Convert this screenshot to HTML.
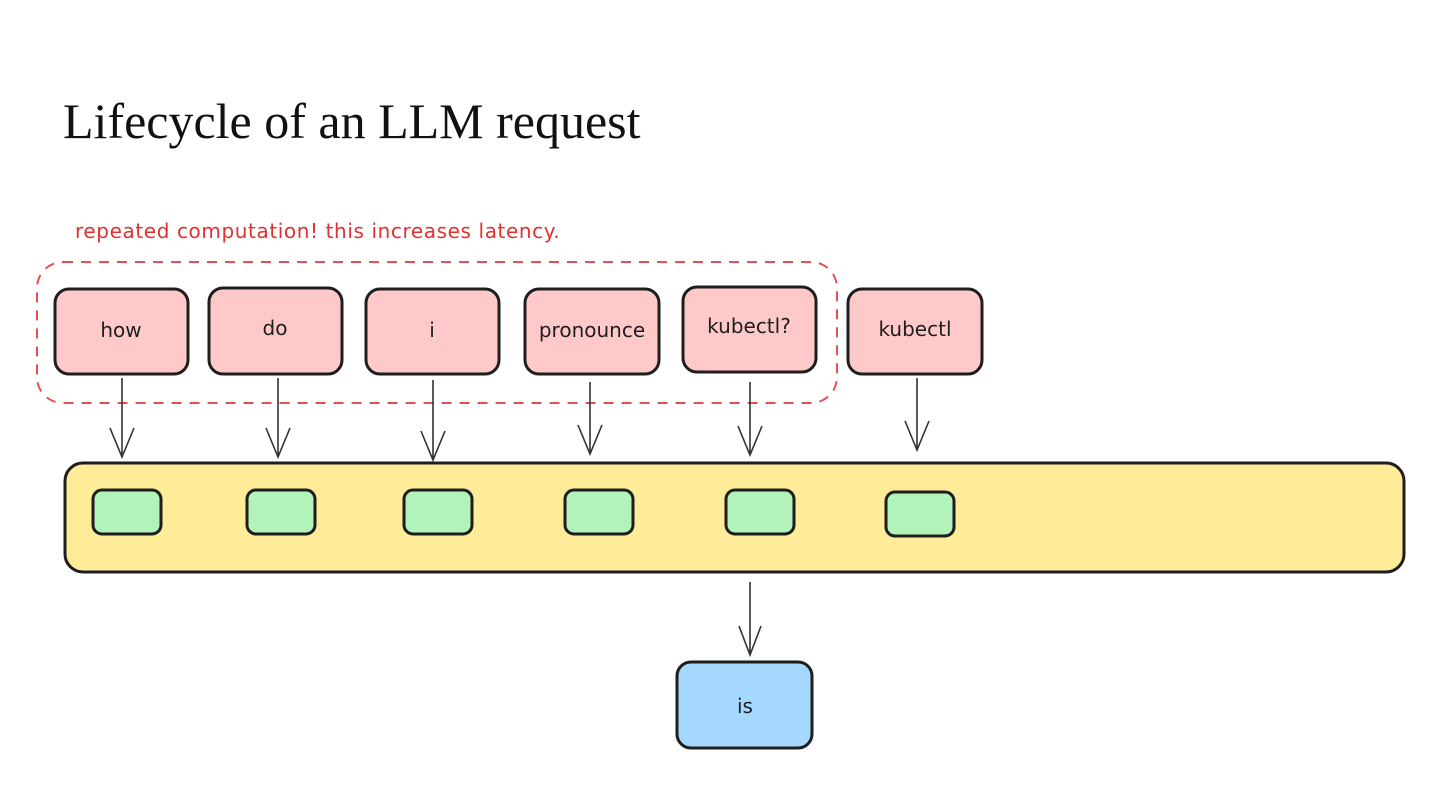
<!DOCTYPE html>
<html><head><meta charset="utf-8"><style>
html,body{margin:0;padding:0;background:#fff;width:1440px;height:810px;overflow:hidden}
svg{display:block}
.t{font-family:"DejaVu Sans","Liberation Sans",sans-serif;font-size:20px;fill:#1e1e1e;text-anchor:middle}
</style></head><body>
<svg width="1440" height="810" viewBox="0 0 1440 810" xmlns="http://www.w3.org/2000/svg">
<text x="63" y="138" font-family="Liberation Serif,serif" font-size="50" fill="#111">Lifecycle of an LLM request</text>
<text x="75" y="238" font-family="DejaVu Sans,Liberation Sans,sans-serif" font-size="20" fill="#e03131" letter-spacing="0.6">repeated computation! this increases latency.</text>
<rect x="37" y="262" width="800" height="141" rx="26" fill="none" stroke="#e03131" stroke-width="2" stroke-dasharray="10 8" opacity="0.85"/>
<g stroke="#1e1e1e" stroke-width="3" fill="#ffc9c9">
<rect x="55" y="289" width="133" height="85" rx="14"/>
<rect x="209" y="288" width="133" height="86" rx="14"/>
<rect x="366" y="289" width="133" height="85" rx="14"/>
<rect x="525" y="289" width="134" height="85" rx="14"/>
<rect x="683" y="287" width="133" height="85" rx="14"/>
<rect x="848" y="289" width="134" height="85" rx="14"/>
</g>
<text class="t" x="121" y="337">how</text>
<text class="t" x="275" y="335">do</text>
<text class="t" x="432" y="337">i</text>
<text class="t" x="592" y="337">pronounce</text>
<text class="t" x="749" y="333">kubectl?</text>
<text class="t" x="915" y="336">kubectl</text>
<rect x="65" y="463" width="1339" height="109" rx="18" fill="#ffec99" stroke="#1e1e1e" stroke-width="3"/>
<g stroke="#1e1e1e" stroke-width="3" fill="#b2f2bb">
<rect x="93" y="490" width="68" height="44" rx="9"/>
<rect x="247" y="490" width="68" height="44" rx="9"/>
<rect x="404" y="490" width="68" height="44" rx="9"/>
<rect x="565" y="490" width="68" height="44" rx="9"/>
<rect x="726" y="490" width="68" height="44" rx="9"/>
<rect x="886" y="492" width="68" height="44" rx="9"/>
</g>
<g stroke="#333" stroke-width="1.6" fill="none">
<path d="M122 378V457M110 428L122 457L134 428"/>
<path d="M278 378V457M266 428L278 457L290 428"/>
<path d="M433 380V460M421 431L433 460L445 431"/>
<path d="M590 382V454M578 425L590 454L602 425"/>
<path d="M750 382V455M738 426L750 455L762 426"/>
<path d="M917 378V450M905 421L917 450L929 421"/>
<path d="M750 582V655M739 626L750 655L761 626"/>
</g>
<rect x="677" y="662" width="135" height="86" rx="14" fill="#a5d8ff" stroke="#1e1e1e" stroke-width="3"/>
<text class="t" x="745" y="713">is</text>
</svg>
</body></html>
